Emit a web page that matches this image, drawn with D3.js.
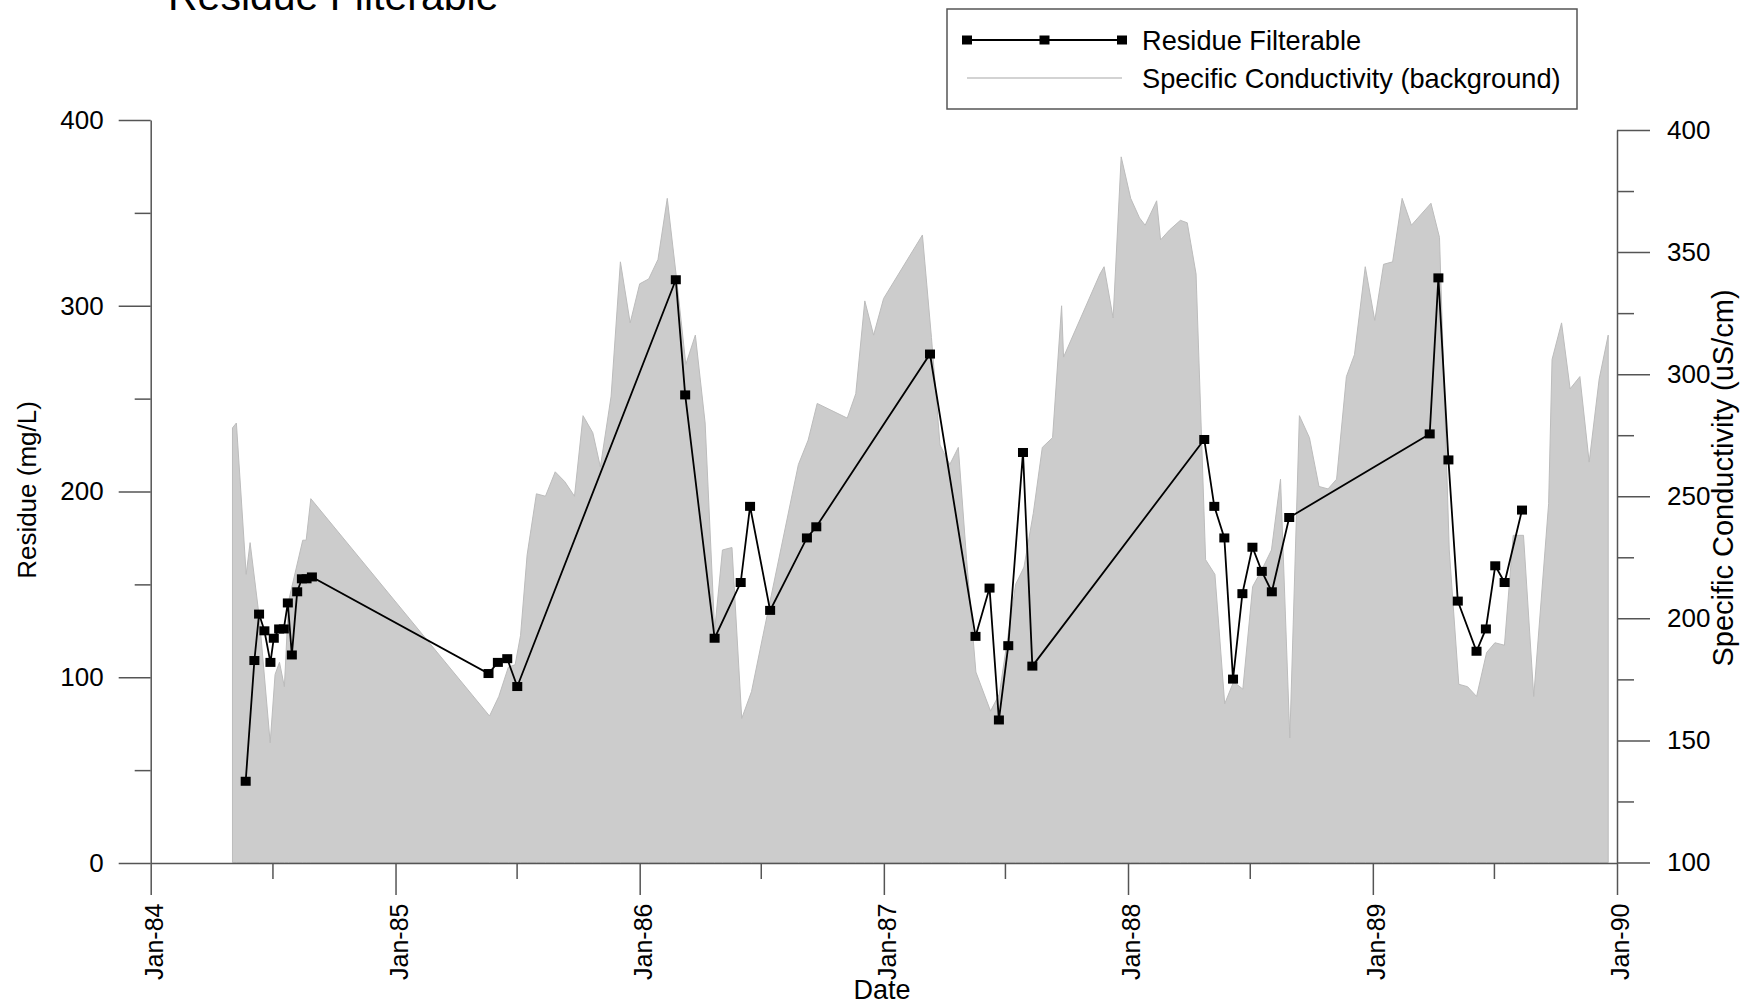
<!DOCTYPE html>
<html>
<head>
<meta charset="utf-8">
<script src="https://cdn.jsdelivr.net/npm/d3@7"></script>
<style>
  html, body { margin: 0; padding: 0; background: #ffffff; }
  svg { display: block; font-family: "Liberation Sans", Arial, Helvetica, sans-serif; }
</style>
</head>
<body>
<svg id="chart" width="1751" height="1007"></svg>
<script>
// ---------- Data ----------
const residueDates = ["1984-05-22","1984-06-04","1984-06-11","1984-06-19","1984-06-28","1984-07-03","1984-07-11","1984-07-18","1984-07-24","1984-07-30","1984-08-07","1984-08-14","1984-08-21","1984-08-29",
  "1985-05-20","1985-06-03","1985-06-17","1985-07-02",
  "1986-02-24","1986-03-10","1986-04-23","1986-06-01","1986-06-15","1986-07-15","1986-09-08","1986-09-22",
  "1987-03-11","1987-05-18","1987-06-08","1987-06-22","1987-07-06","1987-07-28","1987-08-11",
  "1988-04-24","1988-05-09","1988-05-24","1988-06-06","1988-06-20","1988-07-05","1988-07-19","1988-08-03","1988-08-29",
  "1989-03-27","1989-04-09","1989-04-24","1989-05-08","1989-06-05","1989-06-19","1989-07-03","1989-07-17","1989-08-12"];
const residueValues = [44,109,134,125,108,121,126,126,140,112,146,153,153,154,
  102,108,110,95,
  314,252,121,151,192,136,175,181,
  274,122,148,77,117,221,106,
  228,192,175,99,145,170,157,146,186,
  231,315,217,141,114,126,160,151,190];

// Specific conductivity (background), dates as decimal years
const condYears = [1984.334,1984.350,1984.390,1984.406,1984.444,1984.488,1984.508,1984.526,1984.546,1984.563,1984.621,1984.635,1984.654,
  1985.385,1985.423,1985.462,1985.490,1985.512,1985.539,1985.577,1985.614,1985.654,1985.693,1985.733,1985.768,1985.808,1985.839,1985.883,1985.921,1985.961,
  1986.000,1986.037,1986.075,1986.113,1986.150,1986.189,1986.228,1986.268,1986.307,1986.339,1986.378,1986.418,1986.458,1986.505,1986.650,1986.690,1986.727,1986.850,1986.885,1986.922,1986.958,1986.999,
  1987.158,1987.195,1987.230,1987.270,1987.305,1987.339,1987.377,1987.437,1987.473,1987.540,1987.574,1987.612,1987.649,1987.691,1987.728,1987.736,1987.885,1987.902,1987.939,1987.972,
  1988.011,1988.047,1988.070,1988.117,1988.133,1988.169,1988.214,1988.242,1988.278,1988.317,1988.355,1988.395,1988.431,1988.469,1988.509,1988.547,1988.586,1988.623,1988.661,1988.700,1988.741,1988.780,1988.817,1988.852,1988.892,1988.925,1988.969,
  1989.008,1989.044,1989.081,1989.120,1989.158,1989.238,1989.273,1989.313,1989.352,1989.388,1989.425,1989.466,1989.500,1989.539,1989.575,1989.617,1989.659,1989.720,1989.734,1989.773,1989.808,1989.848,1989.886,1989.927,1989.964];
const condValues = [278,280,218,231,200,149,177,182,172,207,232,232,249,
  160,168,180,181,193,226,251,250,260,256,250,283,276,262,291,346,321,
  337,339,347,372,340,304,316,280,195,228,229,159,170,193,263,273,288,282,292,330,316,331,
  357,315,271,263,270,224,178,162,169,214,221,243,270,274,328,307,341,344,323,389,
  372,364,361,371,355,359,363,362,341,224,218,165,174,171,213,220,228,257,151,283,274,254,253,257,299,308,344,
  322,345,346,372,361,370,356,228,173,172,168,186,190,189,234,234,168,247,306,321,294,299,264,298,316];

const xTickLabels = ["Jan-84","Jan-85","Jan-86","Jan-87","Jan-88","Jan-89","Jan-90"];
const leftTicks = [0,100,200,300,400];
const leftMinorTicks = [50,150,250,350];
const rightTicks = [100,150,200,250,300,350,400];
const rightMinorTicks = [125,175,225,275,325,375];

const titleText = "Residue Filterable";
const seriesNames = ["Residue Filterable","Specific Conductivity (background)"];

// ---------- Helpers ----------
const parseDate = d3.utcParse("%Y-%m-%d");
function yearToDate(y) {
  const yr = Math.floor(y);
  const start = Date.UTC(yr, 0, 1), end = Date.UTC(yr + 1, 0, 1);
  return new Date(start + (y - yr) * (end - start));
}
const residue = residueDates.map((d, i) => ({ date: parseDate(d), value: residueValues[i] }));
const cond = condYears.map((y, i) => ({ date: yearToDate(y), value: condValues[i] }));

// ---------- Layout ----------
const svg = d3.select("#chart");
const plotLeft = 150.7, plotRight = 1617;
const x = d3.scaleUtc()
  .domain([new Date(Date.UTC(1984,0,1)), new Date(Date.UTC(1990,0,1))])
  .range([plotLeft, plotRight]);
const yL = d3.scaleLinear().domain([0, 400]).range([863, 120]);
const yR = d3.scaleLinear().domain([100, 400]).range([862.5, 130]);

const axisColor = "#555";

// ---------- Conductivity area (background) ----------
const area = d3.area()
  .x(d => x(d.date))
  .y0(yR(100))
  .y1(d => yR(d.value));
svg.append("path")
  .datum(cond)
  .attr("d", area)
  .attr("fill", "#cccccc")
  .attr("stroke", "#bcbcbc")
  .attr("stroke-width", 1);

// ---------- Axes ----------
function styleAxis(g) {
  g.selectAll("path.domain").attr("stroke", axisColor).attr("stroke-width", 1.5);
  g.selectAll(".tick line").attr("stroke", axisColor).attr("stroke-width", 1.5);
  g.selectAll("text").attr("fill", "#000");
}

const janTicks = d3.utcYear.range(new Date(Date.UTC(1984,0,1)), new Date(Date.UTC(1990,0,2)));
const julTicks = d3.utcYear.range(new Date(Date.UTC(1984,0,1)), new Date(Date.UTC(1990,0,1))).map(d => d3.utcMonth.offset(d, 6));

// minor x ticks
svg.append("g")
  .attr("transform", `translate(0,${yL(0)})`)
  .call(d3.axisBottom(x).tickValues(julTicks).tickSize(16).tickFormat(""))
  .call(styleAxis)
  .call(g => g.select(".domain").remove());

// major x ticks + labels
const xAxisG = svg.append("g")
  .attr("transform", `translate(0,${yL(0)})`)
  .call(d3.axisBottom(x).tickValues(janTicks).tickSize(32).tickSizeOuter(0)
    .tickFormat((d, i) => xTickLabels[i]))
  .call(styleAxis);
xAxisG.selectAll(".tick text")
  .attr("transform", "rotate(-90)")
  .attr("x", -117)
  .attr("y", 3)
  .attr("dy", "0.35em")
  .style("text-anchor", "start")
  .style("font-size", "25px");

// left axis
svg.append("g")
  .attr("transform", `translate(${plotLeft},0)`)
  .call(d3.axisLeft(yL).tickValues(leftMinorTicks).tickSize(16).tickFormat(""))
  .call(styleAxis)
  .call(g => g.select(".domain").remove());
svg.append("g")
  .attr("transform", `translate(${plotLeft},0)`)
  .call(d3.axisLeft(yL).tickValues(leftTicks).tickSize(32).tickSizeOuter(0).tickPadding(15))
  .call(styleAxis)
  .call(g => g.selectAll(".tick text").style("font-size", "26px"));

// right axis
svg.append("g")
  .attr("transform", `translate(${plotRight},0)`)
  .call(d3.axisRight(yR).tickValues(rightMinorTicks).tickSize(17).tickFormat(""))
  .call(styleAxis)
  .call(g => g.select(".domain").remove());
svg.append("g")
  .attr("transform", `translate(${plotRight},0)`)
  .call(d3.axisRight(yR).tickValues(rightTicks).tickSize(33).tickSizeOuter(0).tickPadding(17))
  .call(styleAxis)
  .call(g => g.selectAll(".tick text").style("font-size", "26px"));

// ---------- Residue line + markers ----------
const line = d3.line().x(d => x(d.date)).y(d => yL(d.value));
svg.append("path")
  .datum(residue)
  .attr("d", line)
  .attr("fill", "none")
  .attr("stroke", "#000")
  .attr("stroke-width", 1.8);
svg.append("g").selectAll("rect")
  .data(residue)
  .join("rect")
  .attr("x", d => x(d.date) - 5)
  .attr("y", d => yL(d.value) - 4.5)
  .attr("width", 10)
  .attr("height", 9)
  .attr("fill", "#000");

// ---------- Titles ----------
svg.append("text")
  .attr("x", 168).attr("y", 10)
  .style("font-size", "41px")
  .text(titleText);

svg.append("text")
  .attr("transform", "translate(36,490) rotate(-90)")
  .attr("text-anchor", "middle")
  .style("font-size", "26px")
  .text("Residue (mg/L)");

svg.append("text")
  .attr("transform", "translate(1733,478) rotate(-90)")
  .attr("text-anchor", "middle")
  .style("font-size", "29px")
  .text("Specific Conductivity (uS/cm)");

svg.append("text")
  .attr("x", 882).attr("y", 999)
  .attr("text-anchor", "middle")
  .style("font-size", "27px")
  .text("Date");

// ---------- Legend ----------
const lg = svg.append("g");
lg.append("rect")
  .attr("x", 947).attr("y", 9).attr("width", 630).attr("height", 100)
  .attr("fill", "#fff").attr("stroke", axisColor).attr("stroke-width", 1.5);
const lx0 = 967, lx1 = 1122;
lg.append("line").attr("x1", lx0).attr("x2", lx1).attr("y1", 40).attr("y2", 40)
  .attr("stroke", "#000").attr("stroke-width", 1.8);
lg.selectAll("rect.mk").data([lx0, (lx0 + lx1) / 2, lx1]).join("rect")
  .attr("class", "mk")
  .attr("x", d => d - 5).attr("y", 35.5).attr("width", 10).attr("height", 9).attr("fill", "#000");
lg.append("line").attr("x1", lx0).attr("x2", lx1).attr("y1", 78).attr("y2", 78)
  .attr("stroke", "#c4c4c4").attr("stroke-width", 1.5);
lg.selectAll("text").data(seriesNames).join("text")
  .attr("x", 1142)
  .attr("y", (d, i) => 40 + i * 38)
  .attr("dy", "0.35em")
  .style("font-size", "27.2px")
  .text(d => d);
</script>
</body>
</html>
